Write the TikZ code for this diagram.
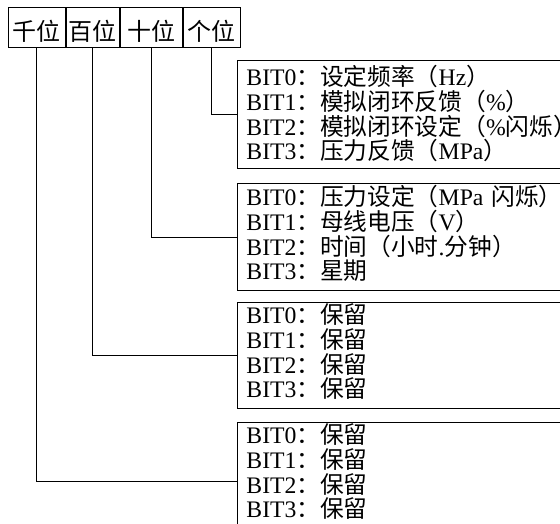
\documentclass[tikz,border=0pt]{standalone}
\usepackage{fontspec}
\setmainfont{Liberation Serif}
\newfontfamily\zhfont{Noto Sans CJK SC}
\newcommand{\zh}[1]{{\zhfont #1}}
\usetikzlibrary{positioning}
\tikzset{
  weicell/.style={draw, line width=0.9bp, inner sep=0pt, minimum height=40bp,
    text height=27bp, text depth=1bp,
    font=\zhfont\fontsize{24bp}{25bp}\selectfont},
  bitbox/.style={draw, line width=0.9bp, anchor=north west, inner xsep=9bp, inner ysep=0pt,
    text width=380bp, align=left, font=\fontsize{23.7bp}{24.8bp}\selectfont},
  link/.style={line width=0.9bp}
}

\begin{document}
\begin{tikzpicture}[x=1bp, y=-1bp]
\path[use as bounding box, clip] (0,0) rectangle (560,524);
% header row
\node[weicell, minimum width=57.5bp, anchor=north west] (qianwei) at (7.5,7.5) {千位};
\node[weicell, minimum width=53bp, right=0pt of qianwei] (baiwei) {百位};
\node[weicell, minimum width=62bp, right=0pt of baiwei] (shiwei) {十位};
\node[weicell, minimum width=57bp, right=0pt of shiwei] (gewei) {个位};
% bit boxes
\node[bitbox, text height=25bp, text depth=83bp] (gebox) at (237,60)
  {BIT0\zh{：设定频率（}Hz\zh{）}\\
   BIT1\zh{：模拟闭环反馈（}\%\zh{）}\\
   BIT2\zh{：模拟闭环设定（}\%\zh{闪烁）}\\
   BIT3\zh{：压力反馈（}MPa\zh{）}};
\node[bitbox, text height=22bp, text depth=85bp] (shibox) at (237,183)
  {BIT0\zh{：压力设定（}MPa \zh{闪烁）}\\
   BIT1\zh{：母线电压（}V\zh{）}\\
   BIT2\zh{：时间（小时}.\zh{分钟）}\\
   BIT3\zh{：星期}};
\node[bitbox, text height=21bp, text depth=85bp] (baibox) at (237,302)
  {BIT0\zh{：保留}\\ BIT1\zh{：保留}\\ BIT2\zh{：保留}\\ BIT3\zh{：保留}};
\node[bitbox, text height=21bp, text depth=97bp] (qianbox) at (237,422)
  {BIT0\zh{：保留}\\ BIT1\zh{：保留}\\ BIT2\zh{：保留}\\ BIT3\zh{：保留}};
% connectors
\draw[link] (gewei.south) |- (gebox.west);
\draw[link] (shiwei.south) |- (shibox.west);
\draw[link] (baiwei.south) |- (baibox.west);
\draw[link] (qianwei.south) |- (qianbox.west);
\end{tikzpicture}
\end{document}
